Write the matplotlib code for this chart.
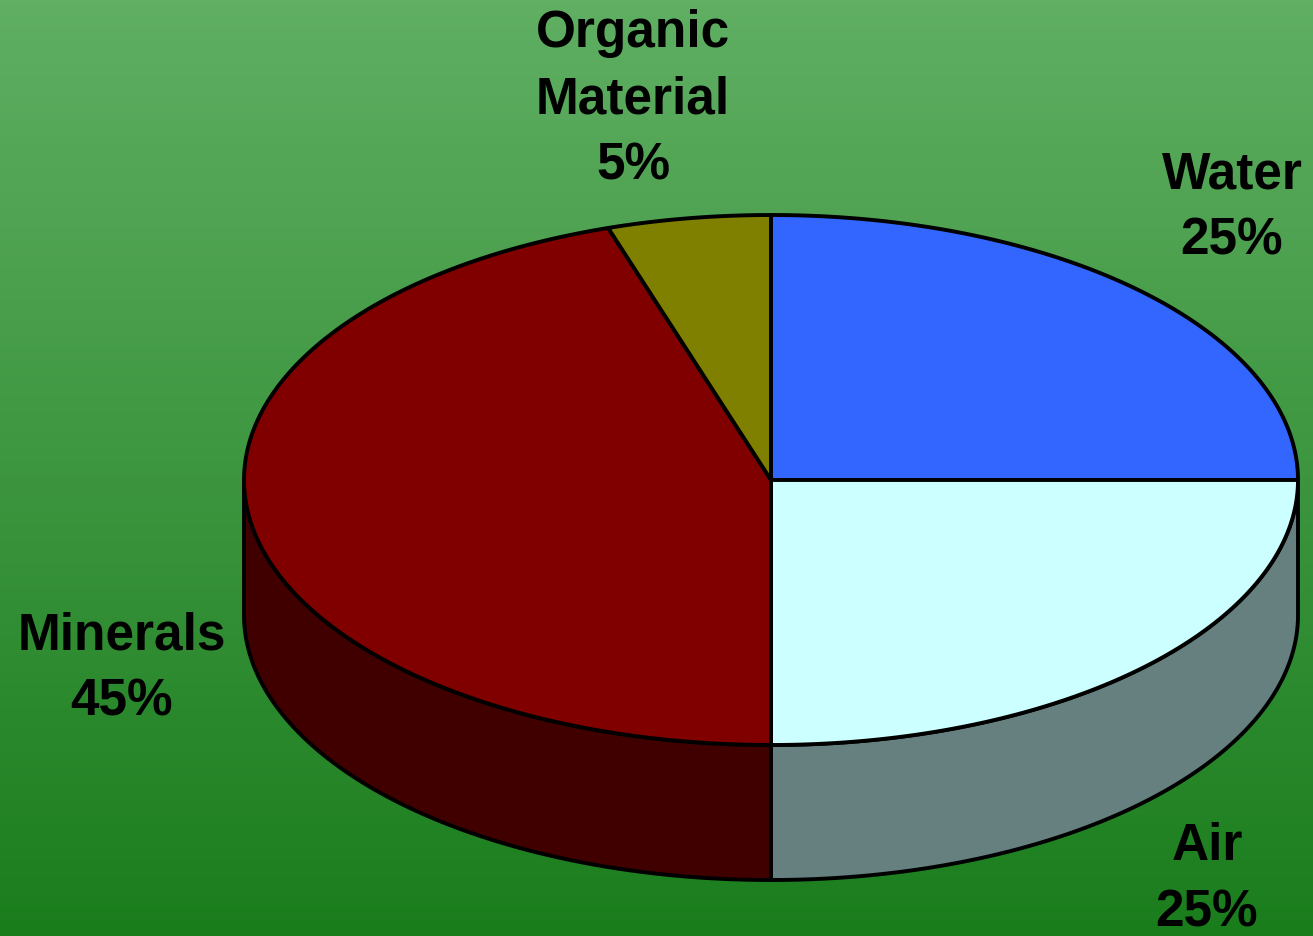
import numpy as np
import matplotlib
matplotlib.use("Agg")
import matplotlib.pyplot as plt
from matplotlib.patches import Polygon
from matplotlib.colors import LinearSegmentedColormap

# Data
labels = ["Water", "Air", "Minerals", "Organic\nMaterial"]
values = [25, 25, 45, 5]
top_colors = ["#3366FF", "#CCFFFF", "#800000", "#808000"]
side_colors = ["#1A3380", "#668080", "#400000", "#404000"]

W, H = 1313, 936
fig = plt.figure(figsize=(W / 100, H / 100), dpi=100)
ax = fig.add_axes([0, 0, 1, 1])
ax.set_xlim(0, W)
ax.set_ylim(H, 0)
ax.axis("off")

# gradient background
cmap = LinearSegmentedColormap.from_list("bg", ["#60AF63", "#1A7D1C"])
grad = np.linspace(0, 1, 256).reshape(-1, 1)
ax.imshow(grad, cmap=cmap, extent=[0, W, H, 0], aspect="auto", zorder=0)

cx, cy, rx, ry, depth = 771, 480, 527, 265, 135


def pt(t_deg, dy=0.0):
    t = np.radians(t_deg)
    return cx + rx * np.sin(t), cy - ry * np.cos(t) + dy


total = sum(values)
starts = []
a = 0.0
for v in values:
    starts.append(a)
    a += 360.0 * v / total

lw = 2.8
# sides (visible front half: angles 90..270, clockwise from top)
for s, v, sc in zip(starts, values, side_colors):
    e = s + 360.0 * v / total
    lo, hi = max(s, 90), min(e, 270)
    if hi <= lo:
        continue
    ts = np.linspace(lo, hi, 200)
    top = [pt(t) for t in ts]
    bot = [pt(t, depth) for t in ts[::-1]]
    ax.add_patch(Polygon(top + bot, closed=True, facecolor=sc, edgecolor="black",
                         lw=lw, joinstyle="round", zorder=2))

# top wedges
for s, v, tc in zip(starts, values, top_colors):
    e = s + 360.0 * v / total
    ts = np.linspace(s, e, 300)
    poly = [(cx, cy)] + [pt(t) for t in ts]
    ax.add_patch(Polygon(poly, closed=True, facecolor=tc, edgecolor="black",
                         lw=lw, joinstyle="round", zorder=3))

# labels
label_pos = [(1232, 208), (1207, 880), (122, 669), (633, 100)]
for lab, v, (x, y) in zip(labels, values, label_pos):
    ax.text(x, y, f"{lab}\n{v}%", ha="center", va="center", fontsize=37,
            fontweight="bold", family="Liberation Sans", linespacing=1.45,
            color="black", zorder=5)

fig.savefig("out.png", dpi=100)
